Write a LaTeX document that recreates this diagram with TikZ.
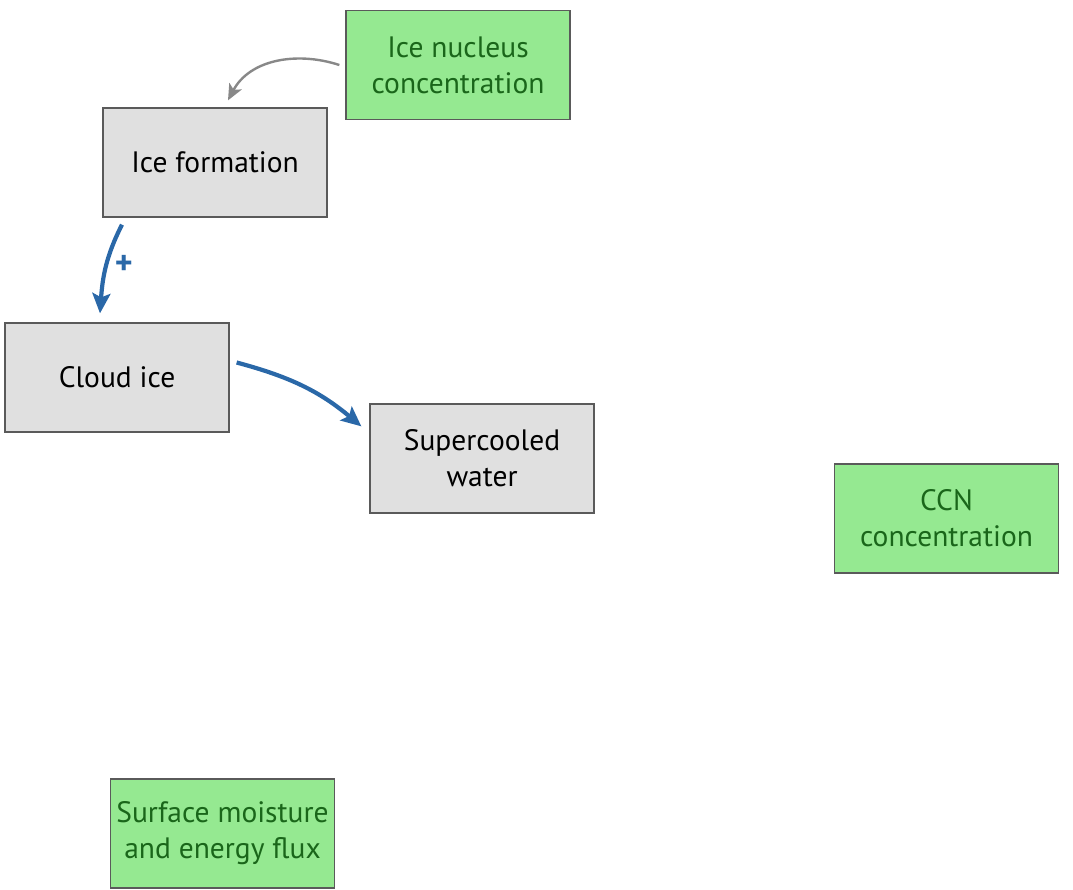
\documentclass[tikz,border=0pt]{standalone}
\usepackage{fontspec}
\setmainfont{PT Sans}
\usetikzlibrary{arrows.meta}
\definecolor{boxgray}{HTML}{E0E0E0}
\definecolor{boxgreen}{HTML}{95E991}
\definecolor{txtgreen}{HTML}{1A661A}
\definecolor{edgegray}{HTML}{5A5A5A}
\definecolor{flowblue}{HTML}{2A68A8}
\definecolor{linkgray}{HTML}{888888}
\tikzset{
  procbox/.style={draw=edgegray, line width=1.3pt, fill=boxgray, minimum width=224pt,
    minimum height=109pt, inner sep=0pt, align=center, font=\fontsize{29.5}{36}\selectfont,
    text=black},
  drivebox/.style={procbox, fill=boxgreen, text=txtgreen},
  flow/.style={draw=flowblue, line width=4.2pt, -{Stealth[length=20pt,width=18pt,inset=4pt]}},
  link/.style={draw=linkgray, line width=2.4pt, -{Stealth[length=16pt,width=14pt,inset=4pt]}}
}
\begin{document}
\begin{tikzpicture}[x=1pt,y=1pt]
\useasboundingbox (0,0) rectangle (1073,-889);
\node[drivebox] (nuc) at (458,-65) {Ice nucleus\\concentration};
\node[procbox] (form) at (215,-162.5) {Ice formation};
\node[procbox] (cice) at (117,-377.5) {Cloud ice};
\node[procbox] (scw) at (482,-458.5) {Supercooled\\water};
\node[drivebox] (ccn) at (946.5,-518.5) {CCN\\concentration};
\node[drivebox] (surf) at (222.5,-833.5) {Surface moisture\\and energy flux};
% ice nuclei feed ice formation
\draw[link] ([xshift=-6pt]nuc.west) to[out=162,in=62] ([xshift=13pt,yshift=7pt]form.north);
% ice formation raises cloud ice
\draw[flow] ([xshift=-93pt,yshift=-7pt]form.south) to[out=243,in=86]
  node[pos=0.47, right=3pt, text=flowblue, font=\fontsize{34}{34}\selectfont\bfseries] {+}
  ([xshift=-17pt,yshift=9pt]cice.north);
% cloud ice depletes supercooled water
\draw[flow] ([xshift=7pt,yshift=15pt]cice.east) to[out=-15,in=140] ([xshift=-8pt,yshift=-23pt]scw.north west);
\end{tikzpicture}
\end{document}
